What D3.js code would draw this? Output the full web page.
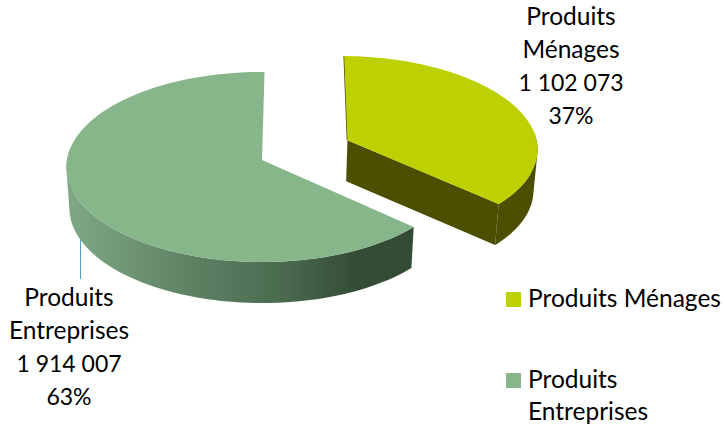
<!DOCTYPE html>
<html>
<head>
<meta charset="utf-8">
<script src="https://cdn.jsdelivr.net/npm/d3@7"></script>
<style>
  html, body { margin: 0; padding: 0; background: #fff; }
  svg { display: block; }
  text { font-family: Lato, "Noto Sans", sans-serif; font-size: 24.5px; fill: #000; }
  tspan.num { font-size: 23px; }
</style>
</head>
<body>
<script>
var names = ['Produits Ménages', 'Produits Entreprises'];
var values = [1102073, 1914007];
var percents = ['37%', '63%'];
var valueLabels = ['1 102 073', '1 914 007'];
var topColors = ['#bdd000', '#86b68a'];
var wallColor = '#4c4f00';
var greenStops = ['#7fa985', '#5f8265', '#4b6b4f', '#344b35', '#344b35'];

var width = 725, height = 430;
var cx = 262, cy = 160, rx = 195, ry = 94.5, tilt = 0.074;
var depth = 41, depthScale = 0.985, explode = 0.485;
var rotation = 0.8 * Math.PI / 180;

var svg = d3.select('body').append('svg')
    .attr('width', width)
    .attr('height', height);

var defs = svg.append('defs');
var grad = defs.append('linearGradient')
    .attr('id', 'greenWall')
    .attr('gradientUnits', 'userSpaceOnUse')
    .attr('x1', 67).attr('x2', 410)
    .attr('y1', 0).attr('y2', 0);
greenStops.forEach(function(c, i) {
    grad.append('stop')
        .attr('offset', [0, 0.35, 0.62, 0.85, 1][i])
        .attr('stop-color', c);
});

var pie = d3.pie().sort(null).value(function(d) { return d; })
    .startAngle(rotation)
    .endAngle(rotation + 2 * Math.PI);
var slices = pie(values);
var line = d3.line().curve(d3.curveLinearClosed);

// disk coordinates to screen, a small perspective makes the front ellipse larger
function project(u, v, low) {
    var s = 1 / (1 - tilt * v);
    var k = low ? depthScale : 1;
    return [cx + rx * u * s * k, cy + ry * v * s + (low ? depth : 0)];
}

function rimAngles(sl) {
    return d3.range(0, 121).map(function(i) {
        return sl.startAngle + (sl.endAngle - sl.startAngle) * i / 120;
    });
}

function rimPoints(sl, off, low, r) {
    return rimAngles(sl).map(function(a) {
        return project(Math.sin(a) * r + off[0], -Math.cos(a) * r + off[1], low);
    });
}

// side wall as strips in one path, only the part facing the viewer.
// every strip gets the same winding or the folded edge cancels out
function wall(sl, rim, low, fill) {
    var angles = rimAngles(sl), d = '';
    d3.range(rim.length - 1).forEach(function(i) {
        if (Math.cos(angles[i]) < 0.1) {
            var quad = [rim[i], rim[i + 1], low[i + 1], low[i]];
            if (d3.polygonArea(quad) < 0) quad.reverse();
            d += line(quad);
        }
    });
    svg.append('path')
        .attr('d', d)
        .attr('fill', fill)
        .attr('fill-rule', 'nonzero');
}

// leader line goes under the wall
svg.append('line')
    .attr('x1', 80.5).attr('x2', 80.5)
    .attr('y1', 225).attr('y2', 279)
    .attr('stroke', '#4aa5c9')
    .attr('stroke-width', 1);

// green slice
var green = slices[1];
var greenRim = rimPoints(green, [0, 0], false, 1);
var greenLow = rimPoints(green, [0, 0], true, 1);
wall(green, greenRim, greenLow, 'url(#greenWall)');
svg.append('path')
    .attr('d', line([project(0, 0, false)].concat(greenRim)))
    .attr('fill', topColors[1]);

// yellow slice, pulled away from the centre
var yellow = slices[0];
var mid = (yellow.startAngle + yellow.endAngle) / 2;
var off = [Math.sin(mid) * explode, -Math.cos(mid) * explode - 0.02];
var yRim = rimPoints(yellow, off, false, 0.985);
var yLow = rimPoints(yellow, off, true, 0.985);
var yApex = project(off[0], off[1], false);
var yApexLow = project(off[0], off[1], true);
wall(yellow, yRim, yLow, wallColor);
svg.append('path')
    .attr('d', line([yApex, yRim[yRim.length - 1], yLow[yLow.length - 1], yApexLow]))
    .attr('fill', wallColor);
svg.append('path')
    .attr('d', d3.line()([yRim[0], yApex]))
    .attr('stroke', wallColor)
    .attr('stroke-width', 1.5)
    .attr('fill', 'none');
svg.append('path')
    .attr('d', line([yApex].concat(yRim)))
    .attr('fill', topColors[0]);

// data labels
function block(x, y, lines) {
    svg.append('text')
        .attr('text-anchor', 'middle')
        .selectAll('tspan')
        .data(lines)
        .join('tspan')
        .attr('class', function(d, i) { return i > 1 ? 'num' : null; })
        .attr('x', x)
        .attr('y', function(d, i) { return y + i * 33; })
        .text(function(d) { return d; });
}
block(571, 25, ['Produits', 'Ménages', valueLabels[0], percents[0]]);
block(69, 306, ['Produits', 'Entreprises', valueLabels[1], percents[1]]);

// legend
var legendY = [292, 373];
var legendLines = [[names[0]], ['Produits', 'Entreprises']];
legendY.forEach(function(y, i) {
    svg.append('rect')
        .attr('x', 506).attr('y', y)
        .attr('width', 15).attr('height', 15)
        .attr('fill', topColors[i]);
    legendLines[i].forEach(function(t, j) {
        svg.append('text')
            .attr('x', 528)
            .attr('y', y + 15 + j * 32)
            .text(t);
    });
});
</script>
</body>
</html>
